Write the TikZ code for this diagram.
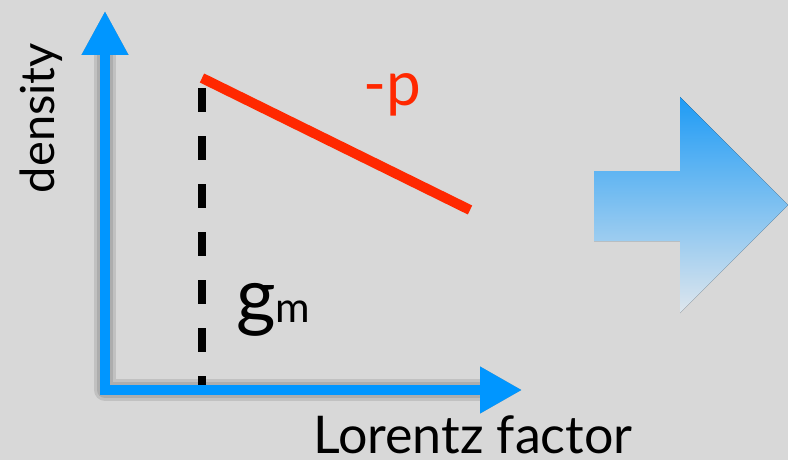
\documentclass[tikz,border=0pt]{standalone}
\usepackage{fontspec}
\setmainfont{Lato}
\usetikzlibrary{arrows.meta}
\definecolor{bgray}{RGB}{216,216,216}
\definecolor{axblue}{RGB}{0,150,255}
\definecolor{pred}{RGB}{255,40,0}
\definecolor{hblue}{RGB}{30,155,245}
\definecolor{mblue}{RGB}{115,187,240}
\definecolor{lblue}{RGB}{222,230,237}
\tikzset{
  axis/.style={axblue, line width=10pt, line join=miter,
    arrows={Triangle[length=44pt,width=44pt]-Triangle[length=42pt,width=44pt]}},
  axshadow/.style={black, opacity=0.1, line width=#1, line join=round,
    arrows={Triangle[length=44pt,width=44pt]-Triangle[length=42pt,width=44pt]}},
  slope/.style={pred, line width=10pt},
  cutoff/.style={black, line width=8pt, dash pattern=on 24pt off 24pt},
  lbl/.style={inner sep=0pt, text depth=0pt, font=\fontsize{52}{52}\selectfont},
  bigarrow/.style={top color=hblue, middle color=mblue, bottom color=lblue}
}
\begin{document}
\begin{tikzpicture}[x=1pt, y=-1pt]
  \fill[bgray] (0,0) rectangle (788,460);
  \useasboundingbox (0,0) rectangle (788,460);

  \coordinate (origin) at (105,390);
  \coordinate (ytip) at (105,11);
  \coordinate (xtip) at (522,390);
  \coordinate (pstart) at (202,78);
  \coordinate (pend) at (470,210);
  \coordinate (gmtop) at (202,88);
  \coordinate (gmfoot) at (202,385);

  \begin{scope}[shift={(10,10)}]
    \foreach \w in {22,16,10}
      \draw[axshadow=\w pt] (ytip) -- (origin) -- (xtip);
  \end{scope}
  \draw[axis] (ytip) -- (origin) -- (xtip);

  \draw[cutoff] (gmtop) -- (gmfoot);
  \draw[slope] (pstart) -- (pend);

  \node[lbl, anchor=base west] (xlabel) at (313,453) {Lorentz factor};
  \node[lbl, rotate=90, anchor=base, font=\fontsize{47}{47}\selectfont] (ylabel) at (54,118) {density};
  \node[lbl, pred, anchor=base west, font=\fontsize{62}{62}\selectfont] (plabel) at (363,106) {-p};
  \node[inner sep=0pt, anchor=base west] (gmlabel) at (236,322)
    {\fontsize{76}{76}\selectfont g\fontsize{42}{42}\selectfont m};

  \fill[bigarrow] (594,171) -- (680,171) -- (680,97) -- (788,205)
    -- (680,313) -- (680,241) -- (594,241) -- cycle;
\end{tikzpicture}
\end{document}
